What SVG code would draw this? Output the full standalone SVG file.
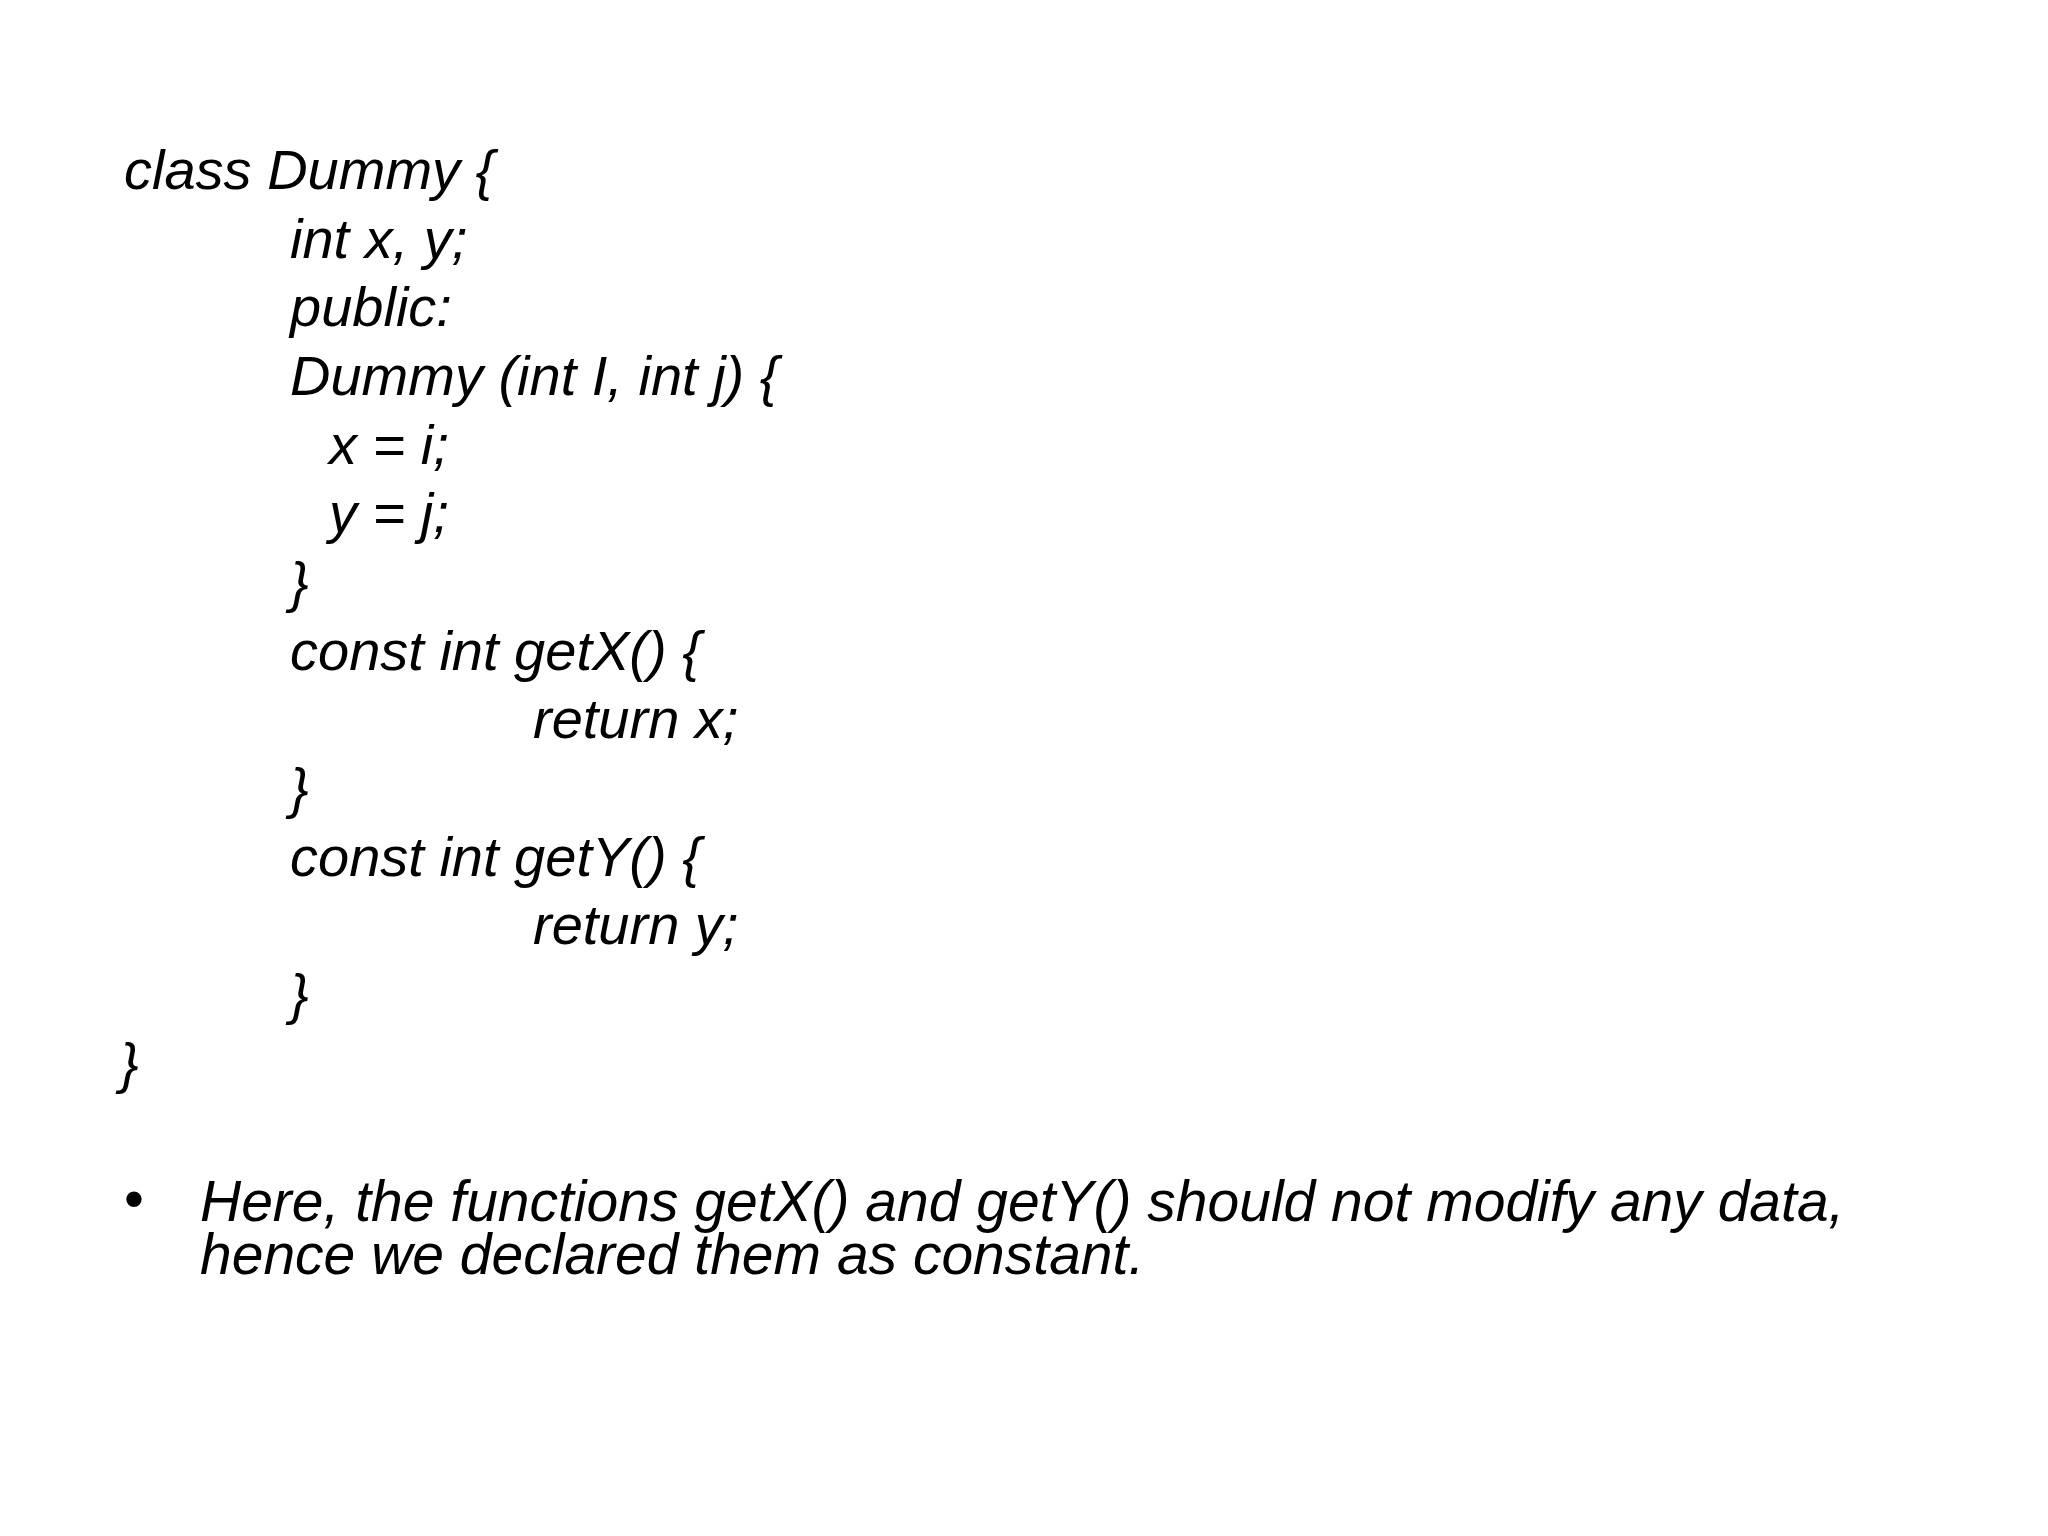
<svg xmlns="http://www.w3.org/2000/svg" width="2048" height="1536" viewBox="0 0 2048 1536">
<style>
text{font-family:"Liberation Sans",Arial,sans-serif;font-style:italic;fill:#000}
.c{font-size:56px}
.b{font-size:57px}
</style>
<rect width="2048" height="1536" fill="#fff"/>
<g id="code" class="c">
<text x="124" y="189">class Dummy {</text>
<text x="290" y="258">int x, y;</text>
<text x="290" y="326">public:</text>
<text x="290" y="395">Dummy (int I, int j) {</text>
<text x="329" y="464">x = i;</text>
<text x="329" y="532">y = j;</text>
<text x="290" y="601">}</text>
<text x="290" y="670">const int getX() {</text>
<text x="533" y="738">return x;</text>
<text x="290" y="807">}</text>
<text x="290" y="876">const int getY() {</text>
<text x="533" y="944">return y;</text>
<text x="290" y="1013">}</text>
<text x="120" y="1082">}</text>
</g>
<g id="bullet" class="b">
<text x="124" y="1218" style="font-style:normal">•</text>
<text x="200" y="1221">Here, the functions getX() and getY() should not modify any data,</text>
<text x="200" y="1274">hence we declared them as constant.</text>
</g>
</svg>
